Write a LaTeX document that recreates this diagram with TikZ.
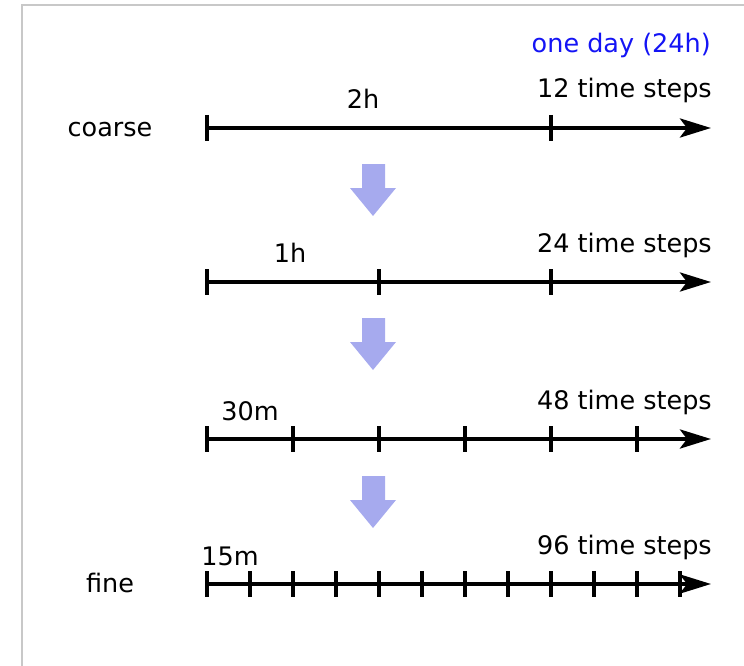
\documentclass[tikz,border=0pt]{standalone}
\usepackage{fontspec}
\setmainfont{DejaVu Sans}
\usetikzlibrary{arrows.meta}
\definecolor{framegray}{RGB}{200,200,200}
\definecolor{refine}{RGB}{166,170,238}
\definecolor{dayblue}{RGB}{20,20,245}
\begin{document}
\begin{tikzpicture}[x=1pt,y=-1pt,
  lbl/.style={font=\fontsize{25.5}{30}\selectfont, inner sep=0pt, anchor=base},
  axisline/.style={line width=4.3pt, -{Stealth[length=31pt,width=19pt,inset=7pt]}},
  tickmark/.style={line width=4.3pt},
  refinearrow/.style={fill=refine, draw=none}]
\useasboundingbox (0,0) rectangle (744,666);
% partial frame
\draw[framegray, line width=1.3pt] (744,5) -- (22,5) -- (22,666);

% axes
\foreach \name/\y in {a/128, b/282, c/439, d/584} {
  \coordinate (\name0) at (207,\y);
  \coordinate (\name1) at (711,\y);
  \draw[axisline] (\name0) -- (\name1);
}
% tick marks
\foreach \x in {207,551} \draw[tickmark] (\x,115) -- (\x,141);
\foreach \x in {207,379,551} \draw[tickmark] (\x,269) -- (\x,295);
\foreach \x in {207,293,...,637} \draw[tickmark] (\x,426) -- (\x,452);
\foreach \x in {207,250,...,680} \draw[tickmark] (\x,571) -- (\x,597);

% refinement arrows
\foreach \t in {164,318,476} {
  \fill[refinearrow] (362,\t) -- (385,\t) -- (385,\t+24) -- (396,\t+24)
    -- (373,\t+52) -- (350,\t+24) -- (362,\t+24) -- cycle;
}

% labels
\node[lbl, anchor=base east, text=dayblue] (day) at (711,53) {one day (24h)};
\node[lbl, anchor=base east] (n12) at (712,98) {12 time steps};
\node[lbl, anchor=base east] (n24) at (712,252) {24 time steps};
\node[lbl, anchor=base east] (n48) at (712,409) {48 time steps};
\node[lbl, anchor=base east] (n96) at (712,554) {96 time steps};
\node[lbl] (h2) at (363,109) {2h};
\node[lbl] (h1) at (290,262) {1h};
\node[lbl] (m30) at (250,420) {30m};
\node[lbl] (m15) at (230,565) {15m};
\node[lbl] (coarse) at (110,136) {coarse};
\node[lbl] (fine) at (110,592) {fine};
\end{tikzpicture}
\end{document}
